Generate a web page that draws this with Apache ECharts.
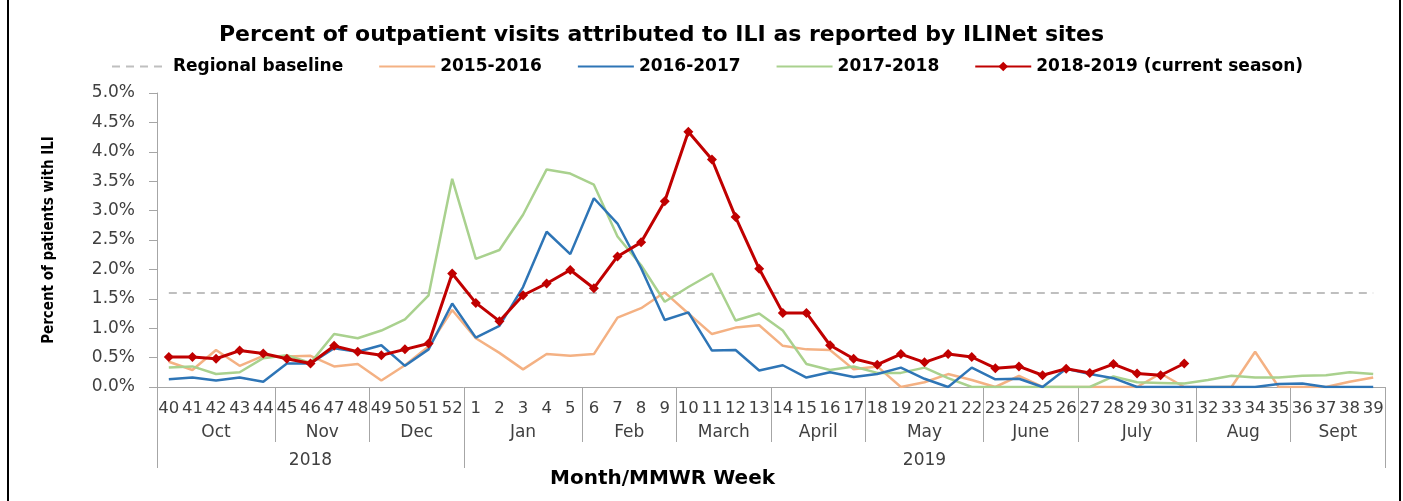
<!DOCTYPE html>
<html lang="en">
<head>
    <meta charset="UTF-8">
    <title>Percent of outpatient visits attributed to ILI</title>
    <script src="https://cdn.jsdelivr.net/npm/echarts@6/dist/echarts.min.js"></script>
    <style>
        body { margin: 0; background: #fff; }
        #frame {
            position: absolute; left: 7px; top: 0; width: 1394px; height: 501px;
            border-left: 2px solid #000; border-right: 2px solid #000; box-sizing: border-box;
        }
        #chart { width: 1403px; height: 501px; }
    </style>
</head>
<body>
    <div id="frame"></div>
    <div id="chart"></div>

    <script>
        // MMWR weeks, Oct 2018 -> Sept 2019
        const weeks = ['40','41','42','43','44','45','46','47','48','49','50','51','52',
                       '1','2','3','4','5','6','7','8','9','10','11','12','13','14','15','16','17',
                       '18','19','20','21','22','23','24','25','26','27','28','29','30','31',
                       '32','33','34','35','36','37','38','39'];

        // months: name + number of weeks
        const months = ['Oct','Nov','Dec','Jan','Feb','March','April','May','June','July','Aug','Sept'];
        const monthWeeks = [5, 4, 4, 5, 4, 4, 4, 5, 4, 5, 4, 4];
        const years = ['2018', '2019'];
        const yearWeeks = [13, 39];

        const baselineValue = 1.6;

        const s2015 = [0.43,0.29,0.63,0.36,0.53,0.52,0.53,0.35,0.39,0.11,0.37,0.69,1.31,
                       0.83,0.58,0.30,0.56,0.53,0.56,1.18,1.34,1.61,1.25,0.90,1.01,1.05,0.70,0.64,0.63,0.30,
                       0.35,0.00,0.08,0.22,0.12,0.00,0.19,0.00,0.00,0.00,0.00,0.00,0.23,0.00,
                       0.00,0.00,0.60,0.00,0.00,0.00,0.09,0.16];
        const s2016 = [0.13,0.16,0.11,0.16,0.09,0.40,0.40,0.66,0.60,0.71,0.36,0.64,1.42,
                       0.84,1.04,1.70,2.64,2.26,3.21,2.78,2.02,1.14,1.27,0.62,0.63,0.28,0.37,0.16,0.25,0.17,
                       0.22,0.33,0.14,0.00,0.33,0.13,0.14,0.00,0.31,0.22,0.15,0.00,0.00,0.00,
                       0.00,0.00,0.00,0.05,0.06,0.00,0.00,0.00];
        const s2017 = [0.33,0.35,0.22,0.25,0.49,0.54,0.41,0.90,0.83,0.96,1.15,1.56,3.54,
                       2.18,2.33,2.93,3.70,3.63,3.44,2.56,2.07,1.45,1.70,1.93,1.13,1.25,0.96,0.39,0.29,0.35,
                       0.24,0.24,0.33,0.15,0.00,0.00,0.00,0.00,0.00,0.00,0.18,0.08,0.07,0.06,
                       0.12,0.19,0.16,0.16,0.19,0.20,0.25,0.22];
        const s2018 = [0.51,0.51,0.48,0.62,0.57,0.48,0.40,0.70,0.60,0.54,0.64,0.74,1.93,
                       1.43,1.12,1.56,1.76,1.99,1.68,2.22,2.46,3.16,4.34,3.87,2.89,2.01,1.26,1.26,0.71,0.48,
                       0.38,0.56,0.42,0.56,0.51,0.32,0.35,0.20,0.31,0.24,0.39,0.23,0.20,0.40];

        const yTicks = { min: 0, max: 5, step: 0.5 };

        // boundaries and centres of the month / year groups, in week units
        function groupEdges(sizes) {
            const edges = [0];
            sizes.forEach(n => edges.push(edges[edges.length - 1] + n));
            return edges;
        }
        function groupCentres(sizes) {
            const e = groupEdges(sizes);
            return sizes.map((n, i) => e[i] + n / 2);
        }
        const monthEdges = groupEdges(monthWeeks);
        const monthCentres = groupCentres(monthWeeks);
        const yearEdges = groupEdges(yearWeeks);
        const yearCentres = groupCentres(yearWeeks);

        const chart = echarts.init(document.getElementById('chart'));
        const axisGray = '#a6a6a6';
        const font = 'DejaVu Sans';
        const noSymbol = { itemStyle: { opacity: 0 } };

        chart.setOption({
            animation: false,
            title: [{
                text: 'Percent of outpatient visits attributed to ILI as reported by ILINet sites',
                left: 214, top: 19,
                textStyle: { fontFamily: font, fontSize: 22, fontWeight: 'bold', color: '#000' }
            }, {
                text: 'Month/MMWR Week',
                left: 545, top: 464,
                textStyle: { fontFamily: font, fontSize: 20, fontWeight: 'bold', color: '#000' }
            }],
            legend: {
                left: 106, top: 53,
                itemWidth: 56, itemHeight: 12, itemGap: 35,
                textStyle: { fontFamily: font, fontSize: 17, fontWeight: 'bold', color: '#000' },
                data: [
                    Object.assign({ name: 'Regional baseline' }, noSymbol),
                    Object.assign({ name: '2015-2016' }, noSymbol),
                    Object.assign({ name: '2016-2017' }, noSymbol),
                    Object.assign({ name: '2017-2018' }, noSymbol),
                    { name: '2018-2019 (current season)' }
                ]
            },
            grid: { left: 157, right: 18, top: 93, bottom: 114 },
            xAxis: [{
                type: 'category',
                position: 'bottom',
                data: weeks,
                boundaryGap: true,
                axisLine: { lineStyle: { color: axisGray, width: 1 } },
                axisTick: { interval: 0, length: 24, lineStyle: { color: axisGray } },
                axisLabel: { interval: 0, margin: 13, fontFamily: font, fontSize: 16.5, color: '#404040' }
            }, {
                type: 'value',
                position: 'bottom',
                min: 0, max: weeks.length,
                axisLine: { show: false },
                splitLine: { show: false },
                axisTick: { show: true, customValues: monthEdges, length: 55, lineStyle: { color: axisGray } },
                axisLabel: {
                    customValues: monthCentres, margin: 37, fontFamily: font, fontSize: 17, color: '#404040',
                    formatter: v => months[monthCentres.indexOf(v)]
                }
            }, {
                type: 'value',
                position: 'bottom',
                min: 0, max: weeks.length,
                axisLine: { show: false },
                splitLine: { show: false },
                axisTick: { show: true, customValues: yearEdges, length: 81, lineStyle: { color: axisGray } },
                axisLabel: {
                    customValues: yearCentres, margin: 65, fontFamily: font, fontSize: 17, color: '#404040',
                    formatter: v => years[yearCentres.indexOf(v)]
                }
            }],
            yAxis: {
                type: 'value',
                min: yTicks.min, max: yTicks.max, interval: yTicks.step,
                name: 'Percent of patients with ILI',
                nameLocation: 'middle',
                nameGap: 100,
                nameTextStyle: { fontFamily: 'Liberation Sans Narrow, DejaVu Sans Condensed', fontSize: 15, fontWeight: 'bold', color: '#000' },
                axisLine: { show: true, lineStyle: { color: axisGray } },
                axisTick: { show: true, length: 8, lineStyle: { color: axisGray } },
                splitLine: { show: false },
                axisLabel: {
                    margin: 22, fontFamily: font, fontSize: 17, color: '#404040',
                    formatter: v => v.toFixed(1) + '%'
                }
            },
            series: [{
                name: 'Regional baseline',
                type: 'line',
                data: weeks.map(() => baselineValue),
                symbol: 'none',
                color: '#bfbfbf',
                lineStyle: { color: '#bfbfbf', width: 2, type: [8, 6] },
                z: 1
            }, {
                name: '2015-2016',
                type: 'line',
                data: s2015,
                symbol: 'none',
                color: '#f4b183',
                lineStyle: { width: 2.5 },
                z: 2
            }, {
                name: '2016-2017',
                type: 'line',
                data: s2016,
                symbol: 'none',
                color: '#2e75b6',
                lineStyle: { width: 2.5 },
                z: 3
            }, {
                name: '2017-2018',
                type: 'line',
                data: s2017,
                symbol: 'none',
                color: '#a9d18e',
                lineStyle: { width: 2.5 },
                z: 2
            }, {
                name: '2018-2019 (current season)',
                type: 'line',
                data: s2018,
                symbol: 'diamond',
                symbolSize: 10,
                showAllSymbol: true,
                color: '#c00000',
                lineStyle: { width: 3 },
                z: 5
            }]
        });

        window.addEventListener('resize', function () {
            chart.resize();
        });
    </script>
</body>
</html>
